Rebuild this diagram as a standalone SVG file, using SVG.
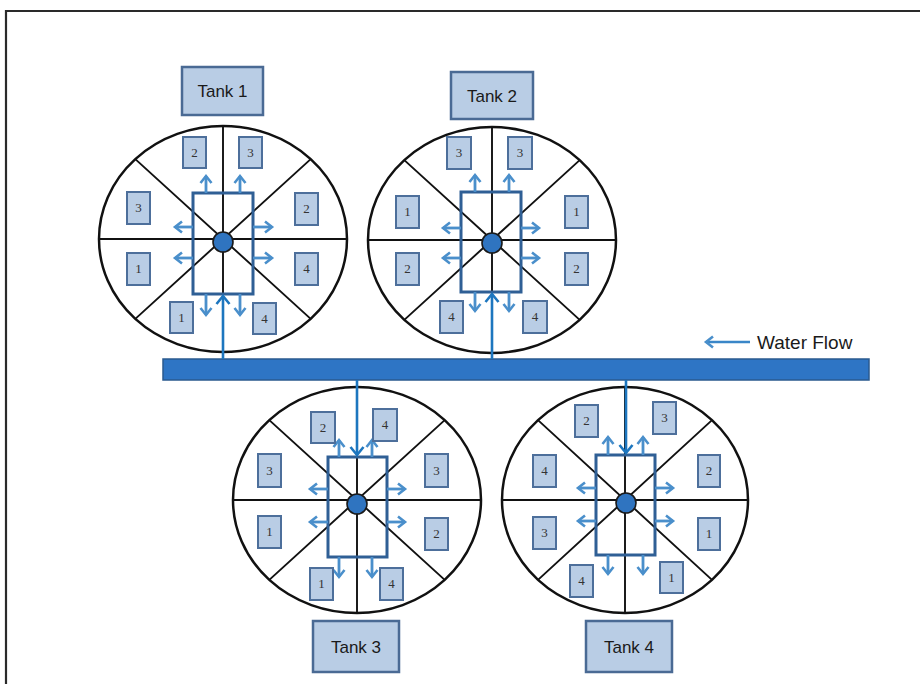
<svg xmlns="http://www.w3.org/2000/svg" width="920" height="684" viewBox="0 0 920 684">
<style>
.tank{fill:none;stroke:#111;stroke-width:2.5}
.spoke{fill:none;stroke:#111;stroke-width:1.9}
.core{fill:none;stroke:#2f5f95;stroke-width:3}
.dot{fill:#2f74c0;stroke:#1a1a1a;stroke-width:1.6}
.flow{fill:none;stroke:#4a8fcb;stroke-width:2.8;marker-end:url(#chev)}
.pipe{fill:none;stroke:#1d76bf;stroke-width:2.6;marker-end:url(#chevp)}
.cell{fill:#b9cde5;stroke:#4d6f9b;stroke-width:2}
.cellt{font-family:"Liberation Serif",serif;font-size:13px;fill:#333;text-anchor:middle}
.lbl{fill:#b9cde5;stroke:#4a6a94;stroke-width:2.5}
.lblt{font-family:"Liberation Sans",Arial,sans-serif;font-size:17px;fill:#1a1a1a;text-anchor:middle}
</style>
<defs>
<marker id="chev" markerUnits="userSpaceOnUse" markerWidth="14" markerHeight="14" refX="10" refY="7" orient="auto">
<path d="M3,1.5 L10,7 L3,12.5" fill="none" stroke="#4a8fcb" stroke-width="2.6"/>
</marker>
<marker id="chevp" markerUnits="userSpaceOnUse" markerWidth="16" markerHeight="16" refX="11" refY="8" orient="auto">
<path d="M3,1.5 L11,8 L3,14.5" fill="none" stroke="#1d76bf" stroke-width="2.6"/>
</marker>
</defs>
<rect width="920" height="684" fill="#fff"/>
<path d="M6,684 V11 H920" fill="none" stroke="#2a2a2a" stroke-width="2.2"/>

<g id="tank1">
<ellipse class="tank" cx="223" cy="239" rx="124" ry="113"/>
<path class="spoke" d="M99,239 H347 M223,126 V352 M135.3,159.1 L310.7,318.9 M310.7,159.1 L135.3,318.9"/>
<rect class="core" x="193" y="193" width="60" height="101"/>
<circle class="dot" cx="223" cy="242" r="10"/>
<path class="flow" d="M206,193 V176"/><path class="flow" d="M240,193 V176"/>
<path class="flow" d="M193,227 H175"/><path class="flow" d="M193,258 H175"/>
<path class="flow" d="M253,227 H272"/><path class="flow" d="M253,258 H272"/>
<path class="flow" d="M206,294 V315"/><path class="flow" d="M240,294 V315"/>
<rect class="cell" x="183" y="137" width="23" height="31"/><text class="cellt" x="194.5" y="157">2</text>
<rect class="cell" x="239" y="137" width="23" height="31"/><text class="cellt" x="250.5" y="157">3</text>
<rect class="cell" x="127" y="192" width="23" height="32"/><text class="cellt" x="138.5" y="212">3</text>
<rect class="cell" x="127" y="253" width="23" height="32"/><text class="cellt" x="138.5" y="273">1</text>
<rect class="cell" x="295" y="193" width="23" height="32"/><text class="cellt" x="306.5" y="213">2</text>
<rect class="cell" x="295" y="253" width="23" height="32"/><text class="cellt" x="306.5" y="273">4</text>
<rect class="cell" x="170" y="302" width="23" height="31"/><text class="cellt" x="181.5" y="322">1</text>
<rect class="cell" x="253" y="303" width="23" height="31"/><text class="cellt" x="264.5" y="323">4</text>
<rect class="lbl" x="182" y="67" width="81" height="48"/><text class="lblt" x="222.5" y="97">Tank 1</text>
</g>

<g id="tank2">
<ellipse class="tank" cx="492" cy="240" rx="124" ry="113"/>
<path class="spoke" d="M368,240 H616 M492,127 V353 M404.3,160.1 L579.7,319.9 M579.7,160.1 L404.3,319.9"/>
<rect class="core" x="461" y="192" width="60" height="100"/>
<circle class="dot" cx="492" cy="243" r="10"/>
<path class="flow" d="M475,192 V175"/><path class="flow" d="M509,192 V175"/>
<path class="flow" d="M461,228 H443"/><path class="flow" d="M461,258 H443"/>
<path class="flow" d="M521,228 H539"/><path class="flow" d="M521,258 H539"/>
<path class="flow" d="M475,292 V311"/><path class="flow" d="M509,292 V311"/>
<rect class="cell" x="447" y="137" width="24" height="32"/><text class="cellt" x="459" y="157">3</text>
<rect class="cell" x="508" y="137" width="24" height="32"/><text class="cellt" x="520" y="157">3</text>
<rect class="cell" x="396" y="196" width="23" height="32"/><text class="cellt" x="407.5" y="216">1</text>
<rect class="cell" x="565" y="196" width="23" height="32"/><text class="cellt" x="576.5" y="216">1</text>
<rect class="cell" x="396" y="253" width="23" height="32"/><text class="cellt" x="407.5" y="273">2</text>
<rect class="cell" x="565" y="253" width="23" height="32"/><text class="cellt" x="576.5" y="273">2</text>
<rect class="cell" x="440" y="301" width="23" height="32"/><text class="cellt" x="451.5" y="321">4</text>
<rect class="cell" x="523" y="301" width="24" height="32"/><text class="cellt" x="535" y="321">4</text>
<rect class="lbl" x="451" y="72" width="82" height="47"/><text class="lblt" x="492" y="102">Tank 2</text>
</g>

<g id="tank3">
<ellipse class="tank" cx="357" cy="500" rx="124" ry="113"/>
<path class="spoke" d="M233,500 H481 M357,387 V613 M269.3,420.1 L444.7,579.9 M444.7,420.1 L269.3,579.9"/>
<rect class="core" x="328" y="457" width="59" height="100"/>
<circle class="dot" cx="357" cy="504" r="10"/>
<path class="flow" d="M339,457 V440"/><path class="flow" d="M372,457 V440"/>
<path class="flow" d="M328,489 H310"/><path class="flow" d="M328,522 H310"/>
<path class="flow" d="M387,489 H405"/><path class="flow" d="M387,522 H405"/>
<path class="flow" d="M339,557 V577"/><path class="flow" d="M372,557 V577"/>
<rect class="cell" x="311" y="412" width="24" height="31"/><text class="cellt" x="323" y="432">2</text>
<rect class="cell" x="373" y="409" width="24" height="32"/><text class="cellt" x="385" y="429">4</text>
<rect class="cell" x="258" y="454" width="23" height="33"/><text class="cellt" x="269.5" y="475">3</text>
<rect class="cell" x="425" y="454" width="23" height="33"/><text class="cellt" x="436.5" y="475">3</text>
<rect class="cell" x="258" y="516" width="23" height="32"/><text class="cellt" x="269.5" y="536">1</text>
<rect class="cell" x="425" y="518" width="23" height="32"/><text class="cellt" x="436.5" y="538">2</text>
<rect class="cell" x="310" y="568" width="23" height="32"/><text class="cellt" x="321.5" y="588">1</text>
<rect class="cell" x="380" y="568" width="23" height="32"/><text class="cellt" x="391.5" y="588">4</text>
<rect class="lbl" x="313" y="621" width="86" height="51"/><text class="lblt" x="356" y="653">Tank 3</text>
</g>

<g id="tank4">
<ellipse class="tank" cx="625" cy="500" rx="123" ry="113"/>
<path class="spoke" d="M502,500 H748 M625,387 V613 M538,420.1 L712,579.9 M712,420.1 L538,579.9"/>
<rect class="core" x="596" y="455" width="59" height="100"/>
<circle class="dot" cx="626" cy="503" r="10"/>
<path class="flow" d="M608,455 V437"/><path class="flow" d="M643,455 V437"/>
<path class="flow" d="M596,488 H578"/><path class="flow" d="M596,521 H578"/>
<path class="flow" d="M655,488 H673"/><path class="flow" d="M655,521 H673"/>
<path class="flow" d="M608,555 V574"/><path class="flow" d="M643,555 V574"/>
<rect class="cell" x="575" y="405" width="23" height="32"/><text class="cellt" x="586.5" y="425">2</text>
<rect class="cell" x="653" y="402" width="23" height="32"/><text class="cellt" x="664.5" y="422">3</text>
<rect class="cell" x="533" y="455" width="23" height="32"/><text class="cellt" x="544.5" y="475">4</text>
<rect class="cell" x="698" y="455" width="22" height="32"/><text class="cellt" x="709" y="475">2</text>
<rect class="cell" x="533" y="517" width="23" height="32"/><text class="cellt" x="544.5" y="537">3</text>
<rect class="cell" x="698" y="518" width="22" height="32"/><text class="cellt" x="709" y="538">1</text>
<rect class="cell" x="570" y="565" width="23" height="32"/><text class="cellt" x="581.5" y="585">4</text>
<rect class="cell" x="660" y="562" width="23" height="31"/><text class="cellt" x="671.5" y="582">1</text>
<rect class="lbl" x="586" y="621" width="86" height="51"/><text class="lblt" x="629" y="653">Tank 4</text>
</g>

<g id="header-pipe">
<rect x="163" y="359" width="706" height="21" fill="#2e75c5" stroke="#2a5a8f" stroke-width="1.5"/>
</g>

<g id="connectors">
<path class="pipe" d="M223,359 V296"/>
<path class="pipe" d="M492,359 V294"/>
<path class="pipe" d="M357,380 V455"/>
<path class="pipe" d="M626,380 V453"/>
</g>

<g id="legend">
<path d="M750,342 H706" fill="none" stroke="#3a86c8" stroke-width="2.4" marker-end="url(#chev)"/>
<text x="757" y="349" font-family="Liberation Sans, Arial, sans-serif" font-size="19" fill="#1a1a1a">Water Flow</text>
</g>
</svg>
